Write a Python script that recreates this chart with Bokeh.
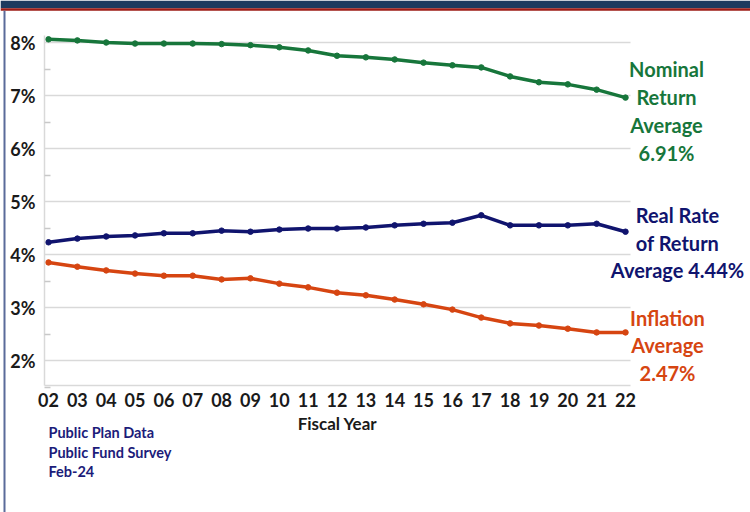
from bokeh.plotting import figure
from bokeh.models import Label, FixedTicker, Range1d, BoxAnnotation
from bokeh.embed import file_html
from bokeh.resources import INLINE

# ---- data ----
years = ["02", "03", "04", "05", "06", "07", "08", "09", "10", "11", "12",
         "13", "14", "15", "16", "17", "18", "19", "20", "21", "22"]
year_num = [2, 3, 4, 5, 6, 7, 8, 9, 10, 11, 12, 13, 14, 15, 16, 17, 18, 19, 20, 21, 22]
nominal = [8.06, 8.04, 8.00, 7.98, 7.98, 7.98, 7.97, 7.95, 7.91, 7.85, 7.75,
           7.72, 7.68, 7.62, 7.57, 7.53, 7.36, 7.25, 7.21, 7.11, 6.96]
real = [4.23, 4.30, 4.34, 4.36, 4.40, 4.40, 4.45, 4.43, 4.47, 4.49, 4.49,
        4.51, 4.55, 4.58, 4.60, 4.74, 4.55, 4.55, 4.55, 4.58, 4.43]
inflation = [3.85, 3.77, 3.70, 3.64, 3.60, 3.60, 3.53, 3.55, 3.45, 3.38, 3.28,
             3.23, 3.15, 3.06, 2.96, 2.81, 2.70, 2.66, 2.60, 2.53, 2.53]
y_ticks = [2, 3, 4, 5, 6, 7, 8]
y_tick_labels = ["2%", "3%", "4%", "5%", "6%", "7%", "8%"]
nominal_label = ["Nominal", "Return", "Average", "6.91%"]
real_label = ["Real Rate", "of Return", "Average 4.44%"]
inflation_label = ["Inflation", "Average", "2.47%"]
source_lines = ["Public Plan Data", "Public Fund Survey", "Feb-24"]

GREEN = "#17763b"
NAVY = "#10146e"
ORANGE = "#d64511"
FONT = "Lato"

# pixel <-> data helpers (layout only)
PX_PER_YEAR = 28.85
PX_PER_PCT = 53.0


def px(xpx):
    return 2 + (xpx - 48) / PX_PER_YEAR


def py(ypx):
    return 8 - (ypx - 42) / PX_PER_PCT


X0, X1 = px(44), px(630)      # plot-area extent
Y0, Y1 = py(385), py(35)

p = figure(width=750, height=512, x_range=Range1d(px(0), px(750)), y_range=Range1d(py(512), py(0)),
           output_backend="svg", toolbar_location=None, min_border=0)
p.outline_line_color = None
p.background_fill_color = "white"
p.border_fill_color = "white"
p.xgrid.grid_line_color = None
p.ygrid.grid_line_color = None

# decoration: header band and left rule
p.add_layout(BoxAnnotation(bottom=py(7.7), fill_color="#1c3a5e", fill_alpha=1, line_color=None))
p.add_layout(BoxAnnotation(bottom=py(10.3), top=py(7.7), fill_color="#9c1c16", fill_alpha=1, line_color=None))
p.add_layout(BoxAnnotation(left=px(3), right=px(5), top=py(10.3), fill_color="#5a6b9a", fill_alpha=1,
                           line_color=None))

# horizontal gridlines limited to the plot area
p.segment(x0=[X0] * len(y_ticks), x1=[X1] * len(y_ticks), y0=y_ticks, y1=y_ticks,
          line_color="#d9d9d9", line_width=1.5)

for vals, col in [(nominal, GREEN), (real, NAVY), (inflation, ORANGE)]:
    p.line(year_num, vals, line_color=col, line_width=3.5)
    p.scatter(year_num, vals, size=5.5, fill_color=col, line_color=col)

# axes
p.xaxis.fixed_location = Y0
p.yaxis.fixed_location = X0
p.xaxis.bounds = (X0, X1)
p.yaxis.bounds = (Y0, Y1)
p.xaxis.ticker = FixedTicker(ticks=year_num)
p.xaxis.major_label_overrides = {n: s for n, s in zip(year_num, years)}
p.yaxis.ticker = FixedTicker(ticks=y_ticks, minor_ticks=[v + 0.5 for v in range(1, 8)])
p.yaxis.major_label_overrides = {n: s for n, s in zip(y_ticks, y_tick_labels)}
for ax in (p.xaxis, p.yaxis):
    ax.axis_line_color = "#d9d9d9"
    ax.axis_line_width = 1.5
    ax.major_tick_line_color = None
    ax.major_label_text_font = FONT
    ax.major_label_text_font_style = "bold"
    ax.major_label_text_font_size = "18px"
    ax.major_label_text_color = "#1a1a1a"
p.xaxis.minor_tick_line_color = None
p.yaxis.minor_tick_line_color = "#c8c8c8"
p.yaxis.minor_tick_line_width = 1.5
p.yaxis.minor_tick_in = 6
p.yaxis.minor_tick_out = 0
p.yaxis.major_label_standoff = 3
p.xaxis.major_label_standoff = 1
p.xaxis.axis_label = "Fiscal Year"
p.xaxis.axis_label_text_font = FONT
p.xaxis.axis_label_text_font_style = "bold"
p.xaxis.axis_label_text_font_size = "17px"
p.xaxis.axis_label_text_color = "#1a1a1a"
p.xaxis.axis_label_standoff = 3


def add_block(lines, xc, ys, color, size="20px", align="center"):
    for t, yy in zip(lines, ys):
        p.add_layout(Label(x=px(xc), y=py(yy), text=t, text_align=align, text_baseline="middle",
                           text_font=FONT, text_font_style="bold", text_font_size=size,
                           text_color=color))


add_block(nominal_label, 666, [68, 96, 124, 152], GREEN)
add_block(real_label, 677, [214, 242, 269], NAVY)
add_block(inflation_label, 667, [317, 344, 372], ORANGE)
add_block(source_lines, 48, [432, 452, 471], "#1c1c7a", size="14.5px", align="left")

open("out.html", "w").write(file_html(p, INLINE))
